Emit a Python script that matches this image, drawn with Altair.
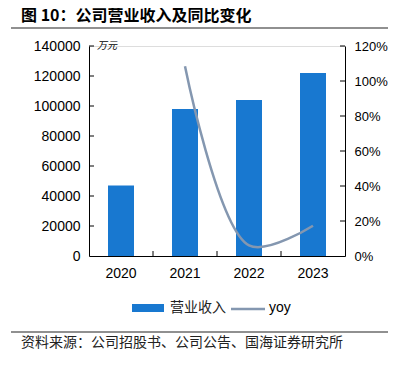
import altair as alt
import pandas as pd

# ---- data ----
years = ["2020", "2021", "2022", "2023"]
revenue = [47000, 98000, 104000, 122000]          # 营业收入 (万元)
yoy_years = ["2021", "2022", "2023"]
yoy = [1.084, 0.061, 0.173]                        # 同比
rev_ticks = [20000, 40000, 60000, 80000, 100000, 120000, 140000]
pct_ticks = [0.2, 0.4, 0.6, 0.8, 1.0, 1.2]
rev_labels = [0, 20000, 40000, 60000, 80000, 100000, 120000, 140000]
pct_labels = [0, 0.2, 0.4, 0.6, 0.8, 1.0, 1.2]

df_bar = pd.DataFrame({"year": years, "revenue": revenue})
df_line = pd.DataFrame({"year": yoy_years, "yoy": yoy})

W, H = 256, 210
BAR_COLOR = "#1878D0"
LINE_COLOR = "#8497B0"
AX = "#000000"
LATIN = "Liberation Sans"
CJK = "Noto Sans CJK SC"

xscale = alt.Scale(domain=years, paddingInner=0, paddingOuter=0)
xaxis = alt.Axis(title=None, labelAngle=0, tickSize=0, labelPadding=10,
                 labelFontSize=14, labelFont=LATIN, labelColor=AX,
                 domainColor=AX, grid=False)
yl_scale = alt.Scale(domain=[0, 140000], nice=False, zero=True)
yr_scale = alt.Scale(domain=[0, 1.2], nice=False, zero=True)

bars = alt.Chart(df_bar).mark_bar(size=26, color=BAR_COLOR).encode(
    x=alt.X("year:N", scale=xscale, axis=xaxis),
    y=alt.Y("revenue:Q", scale=yl_scale,
            axis=alt.Axis(orient="left", title=None, values=rev_labels,
                          tickSize=0, labelPadding=9, grid=False, format="d",
                          labelFontSize=14, labelFont=LATIN, labelColor=AX,
                          domainColor=AX)),
)

line = alt.Chart(df_line).mark_line(interpolate="catmull-rom", color=LINE_COLOR,
                                    strokeWidth=2.5).encode(
    x=alt.X("year:N", scale=xscale, axis=xaxis),
    y=alt.Y("yoy:Q", scale=yr_scale,
            axis=alt.Axis(orient="right", title=None, values=pct_labels,
                          tickSize=0, labelPadding=9, grid=False, format=".0%",
                          labelFontSize=13, labelFont=LATIN, labelColor=AX,
                          domainColor=AX)),
)

left_ticks = alt.Chart(pd.DataFrame({"v": rev_ticks})).mark_rule(color=AX).encode(
    y=alt.Y("v:Q", scale=yl_scale, axis=None),
    x=alt.value(0), x2=alt.value(5),
)
right_ticks = alt.Chart(pd.DataFrame({"p": pct_ticks})).mark_rule(color=AX).encode(
    y=alt.Y("p:Q", scale=yr_scale, axis=None),
    x=alt.value(W - 5), x2=alt.value(W),
)
x_ticks = alt.Chart(pd.DataFrame({"year": years[1:]})).mark_rule(color=AX).encode(
    x=alt.X("year:N", bandPosition=0, scale=xscale, axis=xaxis),
    y=alt.value(H - 5), y2=alt.value(H),
)

one = alt.Data(values=[{"a": 1}])

title_txt = alt.Chart(one).mark_text(
    text="图 10：公司营业收入及同比变化", align="left", baseline="middle",
    font=CJK, fontSize=16, fontWeight="bold", color="#000"
).encode(x=alt.value(-68), y=alt.value(-30))

title_rule = alt.Chart(one).mark_rule(color="#222", strokeWidth=1.2).encode(
    x=alt.value(-78), x2=alt.value(299), y=alt.value(-18))

unit_txt = alt.Chart(one).mark_text(
    text="万元", align="left", baseline="middle", font=CJK, fontSize=10,
    fontStyle="italic", color="#000"
).encode(x=alt.value(8), y=alt.value(0))

leg_rect = alt.Chart(one).mark_rect(color=BAR_COLOR).encode(
    x=alt.value(43), x2=alt.value(75), y=alt.value(258), y2=alt.value(266))
leg_txt1 = alt.Chart(one).mark_text(
    text="营业收入", align="left", baseline="middle", font=CJK, fontSize=14,
    color="#222").encode(x=alt.value(81), y=alt.value(262))
leg_line = alt.Chart(one).mark_rule(color=LINE_COLOR, strokeWidth=2.5).encode(
    x=alt.value(142), x2=alt.value(176), y=alt.value(263))
leg_txt2 = alt.Chart(one).mark_text(
    text="yoy", align="left", baseline="middle", font=LATIN, fontSize=14,
    color="#000").encode(x=alt.value(180), y=alt.value(262))

bottom_rule = alt.Chart(one).mark_rule(color="#222", strokeWidth=1.2).encode(
    x=alt.value(-78), x2=alt.value(299), y=alt.value(286))
source_txt = alt.Chart(one).mark_text(
    text="资料来源：公司招股书、公司公告、国海证券研究所", align="left",
    baseline="middle", font=CJK, fontSize=14, color="#222"
).encode(x=alt.value(-68), y=alt.value(297))

chart = alt.layer(
    bars, line, left_ticks, right_ticks, x_ticks,
    title_txt, title_rule, unit_txt,
    leg_rect, leg_txt1, leg_line, leg_txt2,
    bottom_rule, source_txt,
).resolve_scale(y="independent").properties(
    width=W, height=H,
    padding={"left": 81, "top": 38, "right": 43, "bottom": 102},
    autosize=alt.AutoSizeParams(type="none"),
).configure_view(stroke=None).configure(background="white")

chart.save("out.html", embed_options={"renderer": "svg", "actions": False})
